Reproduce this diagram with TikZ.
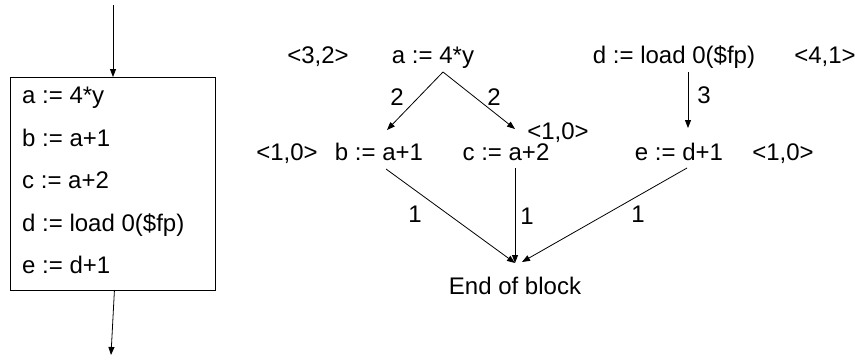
\documentclass[tikz,border=0pt]{standalone}
\usepackage{fontspec}
\setmainfont{Liberation Sans}
\usetikzlibrary{arrows.meta}
\begin{document}
\begin{tikzpicture}[x=1pt,y=-1pt,
  every node/.style={font=\fontsize{24}{28}\selectfont, inner sep=0pt, anchor=base},
  arr/.style={draw, line width=0.8pt, -{Triangle[length=8pt,width=6pt]}}]
\useasboundingbox (0,0) rectangle (855,360);

% basic block with its statements
\node[draw, line width=0.8pt, minimum width=205pt, minimum height=213pt, anchor=north west] (blk) at (10,77) {};
\node[anchor=base west] (s1) at (22,103) {a :=~4*y};
\node[anchor=base west] (s2) at (22,146) {b :=~a+1};
\node[anchor=base west] (s3) at (22,188) {c :=~a+2};
\node[anchor=base west] (s4) at (22,231) {d :=~load 0(\$fp)};
\node[anchor=base west] (s5) at (22,273) {e :=~d+1};
\coordinate (entry) at (113,5);
\coordinate (exit) at (111,355);
\draw[arr] (entry) -- (entry |- blk.north);
\draw[arr] ([xshift=1.5pt]blk.south) -- (exit);

% dependence DAG
\node (w32) at (318,63) {<3,2>};
\node (na) at (433,63) {a :=~4*y};
\node (nd) at (674,63) {d :=~load 0(\$fp)};
\node (w41) at (825,63) {<4,1>};
\node (wb) at (287,160) {<1,0>};
\node (nb) at (379,160) {b :=~a+1};
\node (nc) at (506,160) {c :=~a+2};
\node (wc) at (558,139) {<1,0>};
\node (ne) at (679,160) {e :=~d+1};
\node (we) at (783,160) {<1,0>};
\node (eob) at (515,294) {End of block};

\draw[arr] ([shift={(10,9)}]na.base) -- ([shift={(8,-30)}]nb.base);
\draw[arr] ([shift={(10,9)}]na.base) -- ([shift={(9,-31)}]nc.base);
\draw[arr] ([shift={(14,9)}]nd.base) -- ([shift={(9,-32)}]ne.base);
\draw[arr] ([shift={(7,9)}]nb.base) -- ([shift={(0,-31)}]eob.base);
\draw[arr] ([shift={(9,8)}]nc.base) -- ([shift={(0,-31)}]eob.base);
\draw[arr] ([shift={(8,8)}]ne.base) -- ([shift={(7,-32)}]eob.base);

% edge latencies
\node (l1) at (397,105) {2};
\node (l2) at (494,105) {2};
\node (l3) at (704,103) {3};
\node (l4) at (415,222) {1};
\node (l5) at (527,224) {1};
\node (l6) at (638,222) {1};
\end{tikzpicture}
\end{document}
